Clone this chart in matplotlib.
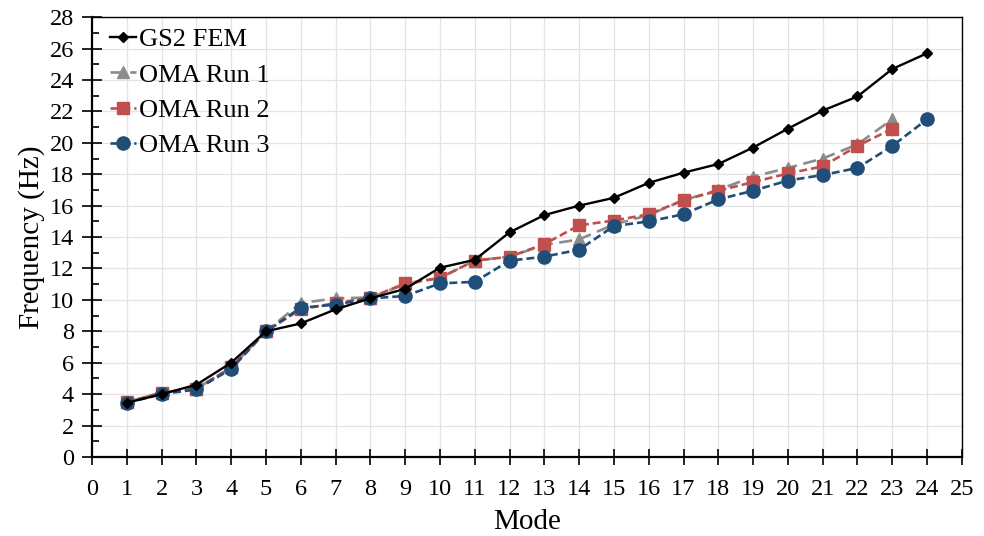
import matplotlib
matplotlib.use('Agg')
import matplotlib.pyplot as plt
from matplotlib.ticker import MultipleLocator

plt.rcParams['font.family'] = ['Liberation Serif', 'DejaVu Serif']

modes_fem = list(range(1, 25))
fem = [3.45, 4.0, 4.6, 6.0, 8.0, 8.5, 9.4, 10.1, 10.7, 12.05, 12.55, 14.3, 15.4,
       16.0, 16.5, 17.45, 18.1, 18.65, 19.7, 20.9, 22.05, 22.95, 24.7, 25.7]

modes_run1 = list(range(1, 24))
run1 = [3.5, 4.1, 4.35, 5.7, 8.0, 9.8, 10.1, 10.15, 11.0, 11.4, 12.5, 12.75, 13.5,
        13.85, 14.8, 15.4, 16.35, 17.0, 17.85, 18.4, 19.0, 19.9, 21.5]

modes_run2 = list(range(1, 24))
run2 = [3.5, 4.1, 4.35, 5.7, 8.0, 9.4, 9.8, 10.15, 11.05, 11.4, 12.5, 12.75, 13.55,
        14.75, 15.05, 15.45, 16.35, 16.95, 17.5, 18.05, 18.5, 19.8, 20.9]

modes_run3 = list(range(1, 25))
run3 = [3.45, 4.0, 4.3, 5.6, 8.0, 9.5, 9.7, 10.1, 10.25, 11.05, 11.15, 12.5, 12.75,
        13.2, 14.7, 15.0, 15.45, 16.4, 16.95, 17.6, 17.95, 18.4, 19.8, 21.5]

fig = plt.figure(figsize=(9.84, 5.36), dpi=100)
ax = fig.add_axes([0.0935, 0.1474, 0.884, 0.8206])

ax.plot(modes_fem, fem, color='black', lw=1.7, marker='D', ms=5.5, label='GS2 FEM', zorder=5)
ax.plot(modes_run1, run1, color='#8c8c8c', lw=1.9, ls=(0, (5, 2.5)), marker='^', ms=9,
        label='OMA Run 1', zorder=3)
ax.plot(modes_run2, run2, color='#c0504d', lw=1.9, ls=(0, (3, 1.5)), marker='s', ms=8,
        label='OMA Run 2', zorder=4)
ax.plot(modes_run3, run3, color='#1f4e79', lw=1.9, ls=(0, (3, 1.5)), marker='o', ms=9.5,
        label='OMA Run 3', zorder=4)

ax.set_xlim(0, 25)
ax.set_ylim(0, 28)
ax.xaxis.set_major_locator(MultipleLocator(1))
ax.yaxis.set_major_locator(MultipleLocator(2))
ax.yaxis.set_minor_locator(MultipleLocator(1))
ax.grid(True, which='major', color='#e3e3e3', lw=0.9)
ax.set_axisbelow(True)

for s in ax.spines.values():
    s.set_color('black')
    s.set_linewidth(1.0)
ax.spines['bottom'].set_linewidth(1.6)
ax.spines['left'].set_linewidth(1.6)

ax.tick_params(axis='x', which='major', direction='inout', length=12, width=1.2,
               labelsize=17.5, pad=10, top=False)
ax.tick_params(axis='y', which='major', direction='inout', length=14, width=1.2,
               labelsize=17.5, pad=6, right=False)
ax.tick_params(axis='y', which='minor', direction='in', length=5, width=1.2, right=False)

ax.set_xlabel('Mode', fontsize=21, labelpad=6)
ax.set_ylabel('Frequency (Hz)', fontsize=21, labelpad=3)

ax.legend(loc='upper left', frameon=False, fontsize=19, handlelength=1.0,
          handletextpad=0.1, labelspacing=0.45, borderaxespad=0.0,
          bbox_to_anchor=(0.008, 1.0))

fig.savefig('out.png', dpi=100)
